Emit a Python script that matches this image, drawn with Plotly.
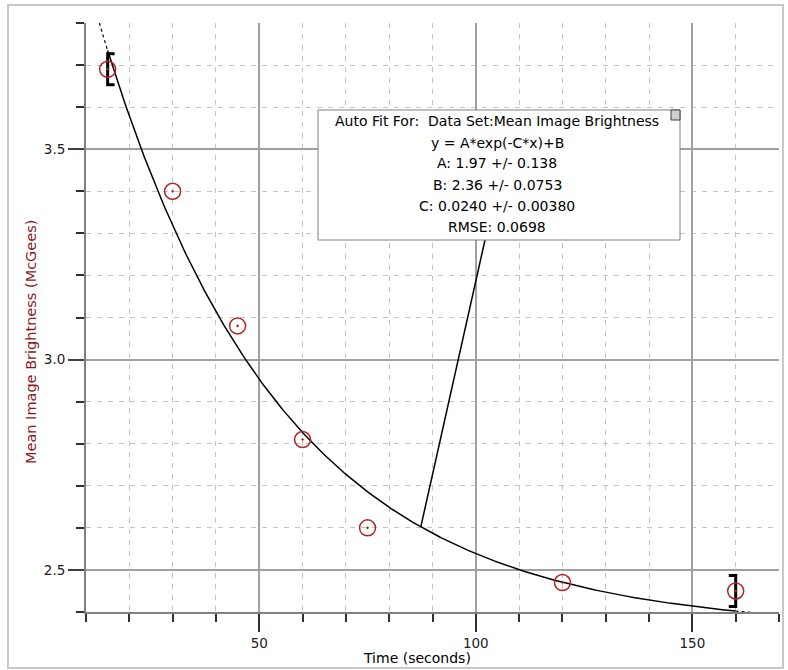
import numpy as np
import plotly.graph_objects as go

# ---------------- data ----------------
time_s = [15, 30, 45, 60, 75, 120, 160]
brightness = [3.69, 3.40, 3.08, 2.81, 2.60, 2.47, 2.45]

fit_A = 1.97
fit_B = 2.36
fit_C = 0.0240
fit_range = [15, 160]
extrap_left = [10, 15]
extrap_right = [160, 165]
connector_x = 87.3

x_ticks = [50, 100, 150]
y_ticks = [2.5, 3.0, 3.5]

fit_text = [
    "Auto Fit For:  Data Set:Mean Image Brightness",
    "y = A*exp(-C*x)+B",
    "A: 1.97 +/- 0.138",
    "B: 2.36 +/- 0.0753",
    "C: 0.0240 +/- 0.00380",
    "RMSE: 0.0698",
]

x_title = "Time (seconds)"
y_title = "Mean Image Brightness (McGees)"

# ---------------- layout helpers ----------------
W, H = 788, 670
L, R, T, B = 86, 779, 23, 612
XR = [10, 170]
YR = [2.4, 3.8]


def ppx(p):
    return (p - L) / (R - L)


def ppy(p):
    return (B - p) / (B - T)


def dx(p):
    return XR[0] + (p - L) / (R - L) * (XR[1] - XR[0])


def dy(p):
    return YR[1] - (p - T) / (B - T) * (YR[1] - YR[0])


def fit(x):
    x = np.asarray(x, dtype=float)
    return fit_A * np.exp(-fit_C * x) + fit_B


FONT = "DejaVu Sans"
RED = "#b02424"

fig = go.Figure()

# dotted extrapolations
for seg in (extrap_left, extrap_right):
    xs = np.linspace(seg[0], seg[1], 30)
    fig.add_trace(go.Scatter(x=xs, y=fit(xs), mode="lines",
                             line=dict(color="black", width=1.2, dash="dot"),
                             hoverinfo="skip", showlegend=False))

# fit curve
xs = np.linspace(fit_range[0], fit_range[1], 400)
fig.add_trace(go.Scatter(x=xs, y=fit(xs), mode="lines",
                         line=dict(color="black", width=1.5),
                         hoverinfo="skip", showlegend=False))

# fit range brackets
half_h = 0.037
serif = 1.6
x0, y0 = time_s[0], brightness[0]
fig.add_trace(go.Scatter(x=[x0 + serif, x0, x0, x0 + serif],
                         y=[y0 + half_h, y0 + half_h, y0 - half_h, y0 - half_h],
                         mode="lines", line=dict(color="black", width=3),
                         hoverinfo="skip", showlegend=False))
x1, y1 = time_s[-1], brightness[-1]
fig.add_trace(go.Scatter(x=[x1 - serif, x1, x1, x1 - serif],
                         y=[y1 + half_h, y1 + half_h, y1 - half_h, y1 - half_h],
                         mode="lines", line=dict(color="black", width=3),
                         hoverinfo="skip", showlegend=False))

# data points
fig.add_trace(go.Scatter(x=time_s, y=brightness, mode="markers",
                         marker=dict(symbol="circle-open-dot", size=16, color=RED,
                                     line=dict(color=RED, width=1.5)),
                         showlegend=False))

shapes = []
# outer frame
shapes.append(dict(type="rect", xref="paper", yref="paper",
                   x0=ppx(8), x1=ppx(783), y0=ppy(668), y1=ppy(5),
                   line=dict(color="#c8c8c8", width=2), layer="below"))
# connector
shapes.append(dict(type="line", xref="x", yref="y",
                   x0=connector_x, y0=float(fit(connector_x)),
                   x1=dx(485), y1=dy(240),
                   line=dict(color="black", width=1.5)))
# fit box
shapes.append(dict(type="rect", xref="paper", yref="paper",
                   x0=ppx(318), x1=ppx(680), y0=ppy(240), y1=ppy(110),
                   line=dict(color="#808080", width=1), fillcolor="white"))
shapes.append(dict(type="rect", xref="paper", yref="paper",
                   x0=ppx(671), x1=ppx(680), y0=ppy(120), y1=ppy(110),
                   line=dict(color="#404040", width=1), fillcolor="#d0d0d0"))

annotations = []
for i, t in enumerate(fit_text):
    annotations.append(dict(text=t, xref="paper", yref="paper",
                            x=ppx(497), y=ppy(121.5 + 21 * i),
                            xanchor="center", yanchor="middle", showarrow=False,
                            font=dict(family=FONT, size=14, color="black")))
annotations.append(dict(text=x_title, xref="paper", yref="paper",
                        x=ppx(417), y=ppy(658), xanchor="center", yanchor="middle",
                        showarrow=False, font=dict(family=FONT, size=14, color="black")))
annotations.append(dict(text=y_title, xref="paper", yref="paper",
                        x=ppx(31), y=ppy(342), xanchor="center", yanchor="middle",
                        textangle=-90, showarrow=False,
                        font=dict(family=FONT, size=14.5, color="#8b1a1a")))

fig.update_layout(
    width=W, height=H,
    margin=dict(l=L, r=W - R, t=T, b=H - B),
    paper_bgcolor="white", plot_bgcolor="white",
    shapes=shapes, annotations=annotations,
    showlegend=False,
    xaxis=dict(range=XR, tickmode="array", tickvals=x_ticks,
               ticktext=[str(v) for v in x_ticks],
               ticks="outside", ticklen=18, tickwidth=2, tickcolor="#303030",
               showline=True, linecolor="#808080", linewidth=2,
               showgrid=True, gridcolor="#a0a0a0", gridwidth=1.5,
               zeroline=False,
               tickfont=dict(family=FONT, size=13.5, color="#202020"),
               minor=dict(dtick=10, tick0=0, ticks="outside", ticklen=8,
                          tickwidth=2, tickcolor="#303030",
                          showgrid=True, gridcolor="#c4c4c4", gridwidth=1,
                          griddash="5px,6px")),
    yaxis=dict(range=YR, tickmode="array", tickvals=y_ticks,
               ticktext=["%.1f" % v for v in y_ticks],
               ticks="outside", ticklen=16, tickwidth=2, tickcolor="#404040",
               showline=True, linecolor="#808080", linewidth=2,
               showgrid=True, gridcolor="#a0a0a0", gridwidth=1.5,
               zeroline=False,
               tickfont=dict(family=FONT, size=13.5, color="#202020"),
               minor=dict(dtick=0.1, tick0=0, ticks="outside", ticklen=8,
                          tickwidth=2, tickcolor="#303030",
                          showgrid=True, gridcolor="#c4c4c4", gridwidth=1,
                          griddash="5px,6px")),
)

fig.write_html("out.html",
               config={"displayModeBar": False},
               post_script="document.body.style.margin='0';"
                           "document.body.style.overflow='hidden';")
